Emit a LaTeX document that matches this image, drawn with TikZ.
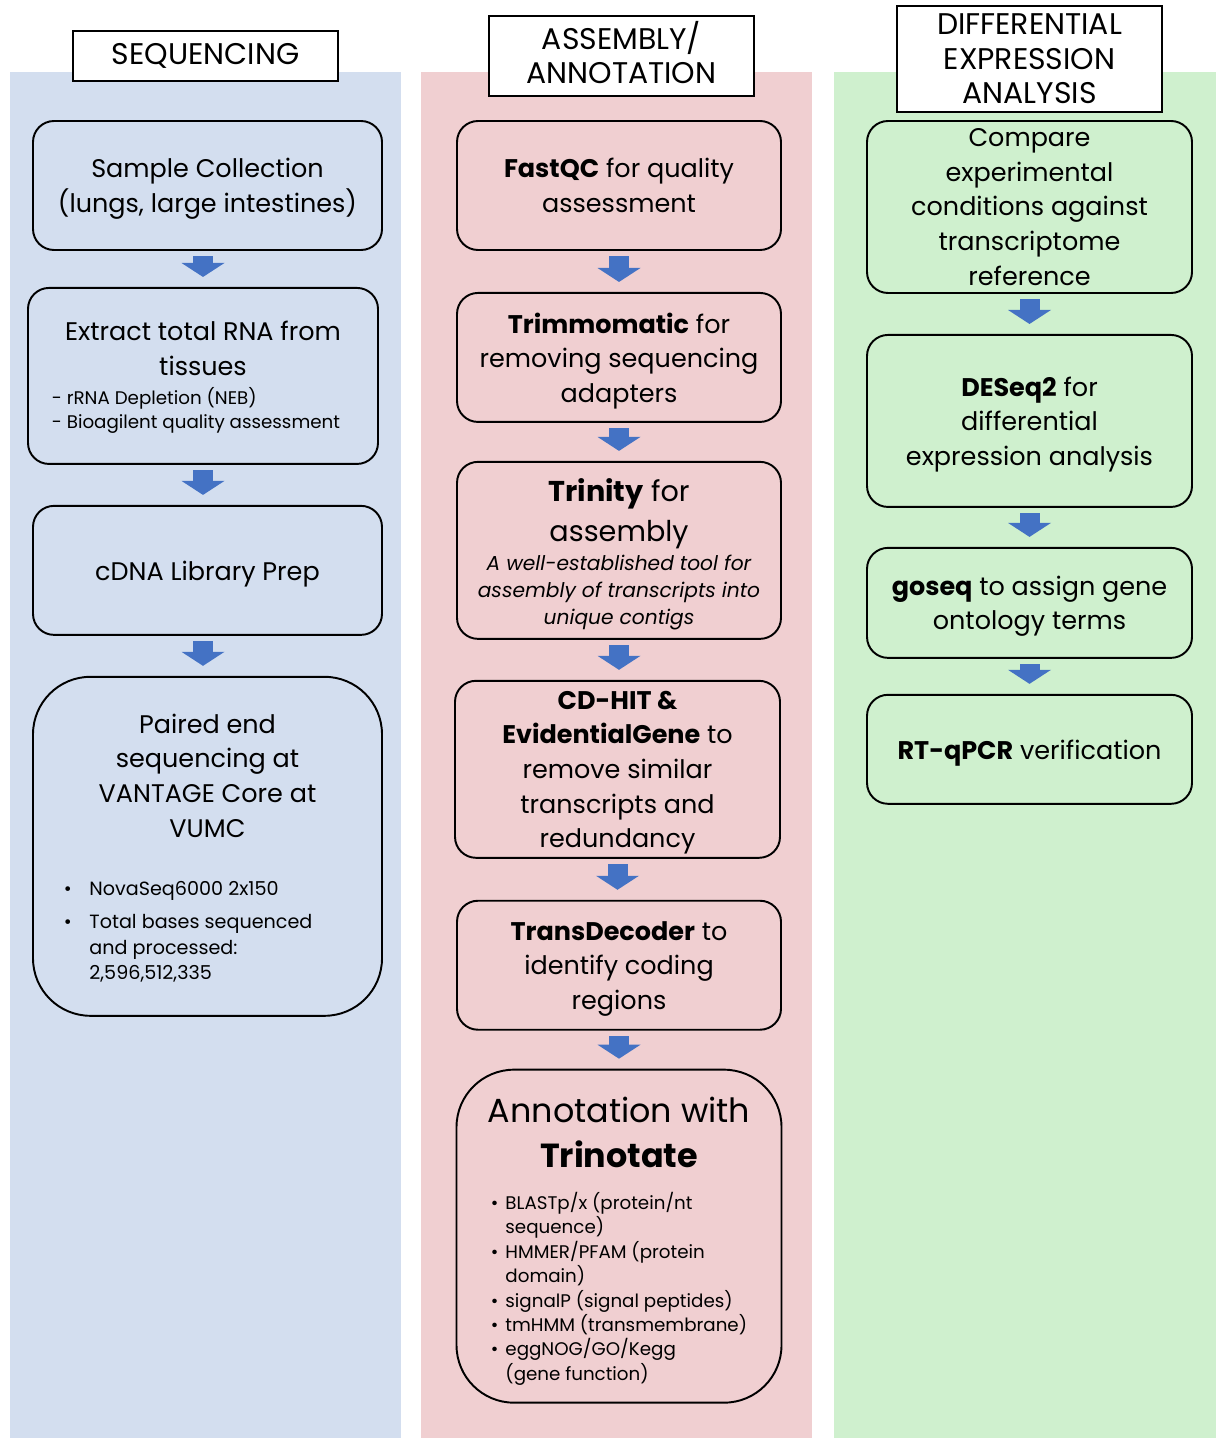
\documentclass[tikz,border=0pt]{standalone}
\usepackage{fontspec}
\setmainfont{Poppins}
\usepackage{tikz}
\usetikzlibrary{arrows.meta, positioning}
\definecolor{seqbg}{RGB}{211,222,239}
\definecolor{asmbg}{RGB}{240,207,209}
\definecolor{diffbg}{RGB}{207,240,206}
\definecolor{arrowblue}{RGB}{68,114,196}

\newcommand{\mainsz}{\fontsize{14.5}{19.7}\selectfont}
\newcommand{\headsz}{\fontsize{17}{19.6}\selectfont}
\newcommand{\subsz}{\fontsize{10.4}{13.8}\selectfont}
\newcommand{\notesz}{\fontsize{11.5}{15.3}\selectfont}
\newcommand{\listsz}{\fontsize{10.9}{14.7}\selectfont}
\newcommand{\trinsz}{\fontsize{16.3}{22.7}\selectfont}
\newcommand{\annosz}{\fontsize{19}{25.5}\selectfont}

\tikzset{
  % column panels
  panel/.style={rectangle, inner sep=0pt, minimum height=27.32cm, anchor=north west},
  headbox/.style={rectangle, draw=black, line width=1.1pt, fill=white,
    minimum width=5.3cm, align=center, font=\headsz, inner sep=0pt},
  % workflow steps
  notebox/.style={rectangle, rounded corners=0.42cm, draw=black, line width=1.1pt,
    minimum height=2.58cm, align=center, font=\mainsz, inner sep=1pt},
  stepbox/.style={notebox, text depth=0pt},
  bigbox/.style={notebox, rounded corners=1.15cm},
  flowarrow/.style={draw=arrowblue, line width=0.4cm,
    -{Triangle[width=0.86cm, length=0.28cm, line width=0pt]},
    shorten <=0.11cm, shorten >=0.2cm}
}

\begin{document}
\begin{tikzpicture}
  \useasboundingbox (0,0) rectangle (24.32,-28.76);

  % Backgrounds
  \node[panel, fill=seqbg, minimum width=7.82cm] (seqpanel) at (0.2,-1.44) {};
  \node[panel, fill=asmbg, minimum width=7.82cm] (asmpanel) at (8.42,-1.44) {};
  \node[panel, fill=diffbg, minimum width=7.64cm] (diffpanel) at (16.68,-1.44) {};

  % Column titles
  \node[headbox, minimum height=1.0cm] (seqhead) at (4.11,-1.12) {SEQUENCING};
  \node[headbox, minimum height=1.6cm] (asmhead) at (12.43,-1.12) {ASSEMBLY\smash{/}\\ANNOTATION};
  \node[headbox, minimum height=2.12cm] (diffhead) at (20.59,-1.18) {DIFFERENTIAL\\EXPRESSION\\ANALYSIS};

  % Sequencing
  \node[stepbox, minimum width=6.98cm] (sample) at (4.15,-3.71)
    {Sample Collection\\(lungs, large intestines)};
  \node[notebox, minimum width=7.0cm, minimum height=3.52cm, below=0.72cm of sample, xshift=-0.09cm] (extract)
    {\parbox{6.8cm}{\vspace*{3pt}\centering Extract total RNA from\\tissues\\[2.5pt]
     \subsz\begin{tabular}[t]{@{}l@{}}- rRNA Depletion (NEB)\\- Bioagilent quality assessment\end{tabular}\kern8pt}};
  \node[stepbox, minimum width=6.98cm, below=0.8cm of extract, xshift=0.09cm] (library)
    {cDNA Library Prep};
  \node[bigbox, minimum width=6.98cm, minimum height=6.78cm, below=0.8cm of library] (pairedend)
    {\parbox{6.6cm}{\vspace*{5pt}\centering Paired end\\sequencing at\\VANTAGE Core at\\VUMC\\[18.5pt]
     \listsz\begin{tabular}[t]{@{}l@{\hspace{10pt}}l@{}}
       \textbullet & NovaSeq6000 2x150\\[4pt]
       \textbullet & Total bases sequenced\\
                   & and processed:\\
                   & 2,596,512,335
     \end{tabular}\kern22pt}};

  \draw[flowarrow] (sample.south -| extract.north) -- (extract.north);
  \draw[flowarrow] (extract.south) -- (extract.south |- library.north);
  \draw[flowarrow] (library.south -| extract.south) -- (extract.south |- pairedend.north);

  % Assembly / annotation
  \node[stepbox, minimum width=6.48cm] (fastqc) at (12.38,-3.71)
    {\textbf{FastQC} for quality\\assessment};
  \node[stepbox, minimum width=6.48cm, below=0.82cm of fastqc] (trimmo)
    {\textbf{Trimmomatic} for\\removing sequencing\\adapters};
  \node[notebox, minimum width=6.48cm, minimum height=3.54cm, below=0.76cm of trimmo] (trinity)
    {\parbox{6.3cm}{\vspace*{4pt}\centering\trinsz\textbf{Trinity} for\\assembly\\[1.3pt]
     \notesz\itshape A well-established tool for\\assembly of transcripts into\\unique contigs}};
  \node[stepbox, minimum width=6.5cm, minimum height=3.54cm, below=0.8cm of trinity, xshift=-0.03cm] (cdhit)
    {\textbf{CD-HIT \&}\\\textbf{EvidentialGene} to\\remove similar\\transcripts and\\redundancy};
  \node[stepbox, minimum width=6.48cm, below=0.82cm of cdhit, xshift=0.03cm] (transdec)
    {\textbf{TransDecoder} to\\identify coding\\regions};
  \node[bigbox, minimum width=6.5cm, minimum height=6.66cm, below=0.76cm of transdec] (trinotate)
    {\parbox{6.3cm}{\vspace*{7pt}\centering\annosz Annotation with\\\textbf{Trinotate}\\[10.3pt]
     \subsz\begin{tabular}[t]{@{}l@{\hspace{4pt}}l@{}}
       \textbullet & BLASTp/x (protein/nt\\
                   & sequence)\\
       \textbullet & HMMER/PFAM (protein\\
                   & domain)\\
       \textbullet & signalP (signal peptides)\\
       \textbullet & tmHMM (transmembrane)\\
       \textbullet & eggNOG/GO/Kegg\\
                   & (gene function)
     \end{tabular}}};

  \draw[flowarrow] (fastqc.south) -- (fastqc.south |- trimmo.north);
  \draw[flowarrow] (trimmo.south) -- (trimmo.south |- trinity.north);
  \draw[flowarrow] (trinity.south) -- (trinity.south |- cdhit.north);
  \draw[flowarrow] (cdhit.south) -- (cdhit.south |- transdec.north);
  \draw[flowarrow] (transdec.south) -- (transdec.south |- trinotate.north);

  % Differential expression
  \node[stepbox, minimum width=6.5cm, minimum height=3.44cm] (compare) at (20.59,-4.14)
    {Compare\\experimental\\conditions against\\transcriptome\\reference};
  \node[stepbox, minimum width=6.5cm, minimum height=3.44cm, below=0.8cm of compare] (deseq)
    {\textbf{DESeq2} for\\differential\\expression analysis};
  \node[stepbox, minimum width=6.5cm, minimum height=2.2cm, below=0.78cm of deseq] (goseq)
    {\textbf{goseq} to assign gene\\ontology terms};
  \node[stepbox, minimum width=6.5cm, minimum height=2.18cm, below=0.7cm of goseq] (rtqpcr)
    {\textbf{RT-qPCR} verification};

  \draw[flowarrow] (compare.south) -- (compare.south |- deseq.north);
  \draw[flowarrow] (deseq.south) -- (deseq.south |- goseq.north);
  \draw[flowarrow] (goseq.south) -- (goseq.south |- rtqpcr.north);

\end{tikzpicture}
\end{document}
